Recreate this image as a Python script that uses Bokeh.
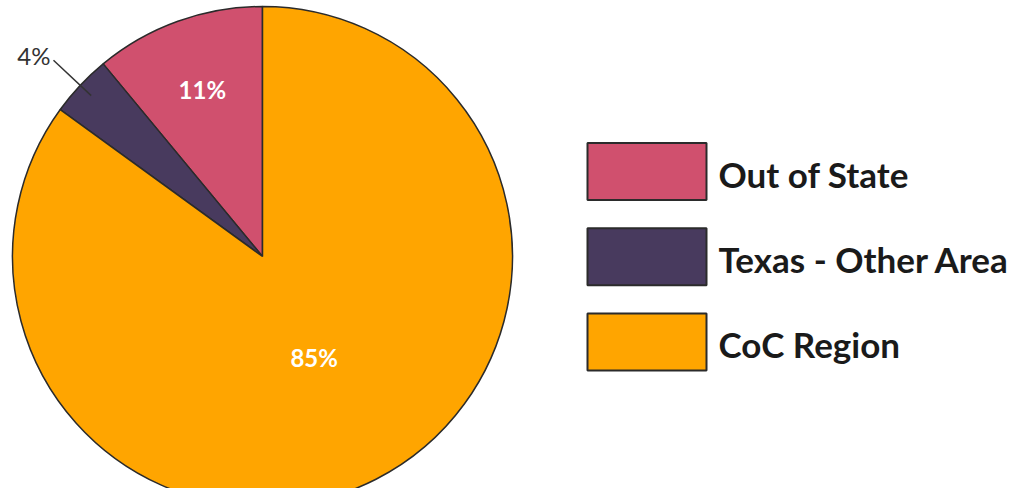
import math
from bokeh.plotting import figure
from bokeh.models import Range1d, ColumnDataSource
from bokeh.core.properties import value
from bokeh.embed import file_html
from bokeh.resources import INLINE

categories = ["Out of State", "Texas - Other Area", "CoC Region"]
values = [11, 4, 85]
labels = ["11%", "4%", "85%"]
colors = ["#D0506E", "#483A5E", "#FFA500"]

W, H = 1012, 488
p = figure(width=W, height=H, output_backend="svg", toolbar_location=None,
           x_range=Range1d(0, W), y_range=Range1d(0, H), min_border=0)
p.axis.visible = False
p.grid.visible = False
p.outline_line_color = None
p.background_fill_color = "white"

cx, cy, R = 262, 232, 250
total = sum(values)
starts, ends = [], []
a = math.pi / 2
for v in values:
    starts.append(a)
    a += 2 * math.pi * v / total
    ends.append(a)
mids = [(s + e) / 2 for s, e in zip(starts, ends)]

src = ColumnDataSource(dict(start=starts, end=ends, color=colors))
p.wedge(x=cx, y=cy, radius=R, start_angle="start", end_angle="end",
        fill_color="color", line_color="#2b2b2b", line_width=1.5, source=src)

# inside labels
inner_r = [0.71, None, 0.455]
ix, iy, it = [], [], []
for m, r, t in zip(mids, inner_r, labels):
    if r is not None:
        ix.append(cx + r * R * math.cos(m)); iy.append(cy + r * R * math.sin(m)); it.append(t)
p.text(x=ix, y=iy, text=it, text_color="white", text_font=value("Lato"),
       text_font_style="bold", text_font_size="24px", text_align="center", text_baseline="middle")

# outside label with leader line
m = mids[1]
p.line(x=[cx + 0.94 * R * math.cos(m), cx + 1.147 * R * math.cos(m)],
       y=[cy + 0.94 * R * math.sin(m), cy + 1.147 * R * math.sin(m)],
       line_color="#333333", line_width=1.5)
p.text(x=[cx + 1.147 * R * math.cos(m) - 3], y=[cy + 1.147 * R * math.sin(m) + 5], text=[labels[1]],
       text_color="#333333", text_font=value("Lato"), text_font_size="24px",
       text_align="right", text_baseline="middle")

# legend
lx, ly0, step = 646.5, 317, -85.25
ly = [ly0 + i * step for i in range(len(categories))]
p.rect(x=[lx] * len(categories), y=ly, width=119, height=57, fill_color=colors,
       line_color="#2b2b2b", line_width=2)
p.text(x=[lx + 71.5] * len(categories), y=[v - 2 for v in ly], text=categories, text_color="#1a1a1a",
       text_font=value("Lato"), text_font_style="bold", text_font_size="35px",
       text_align="left", text_baseline="middle")

open("out.html", "w").write(file_html(p, INLINE))
